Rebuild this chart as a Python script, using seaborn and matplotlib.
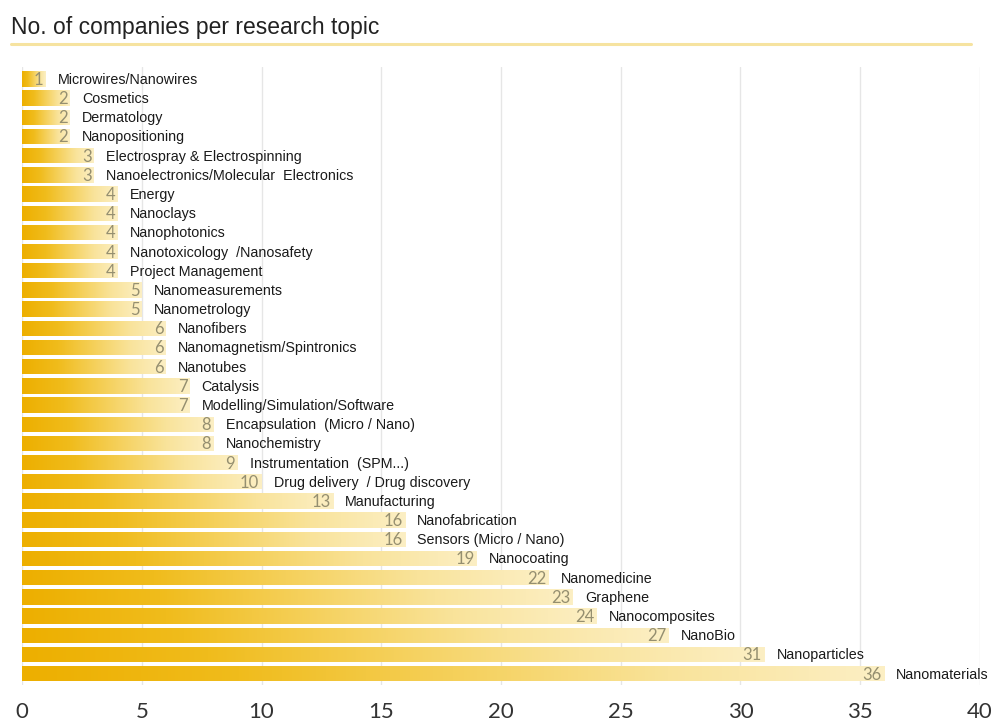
import numpy as np
import pandas as pd
import matplotlib
matplotlib.use("Agg")
import matplotlib.pyplot as plt
import seaborn as sns
from matplotlib.colors import LinearSegmentedColormap

topics = [
    "Microwires/Nanowires", "Cosmetics", "Dermatology", "Nanopositioning",
    "Electrospray & Electrospinning", "Nanoelectronics/Molecular  Electronics",
    "Energy", "Nanoclays", "Nanophotonics", "Nanotoxicology  /Nanosafety",
    "Project Management", "Nanomeasurements", "Nanometrology", "Nanofibers",
    "Nanomagnetism/Spintronics", "Nanotubes", "Catalysis",
    "Modelling/Simulation/Software", "Encapsulation  (Micro / Nano)",
    "Nanochemistry", "Instrumentation  (SPM...)", "Drug delivery  / Drug discovery",
    "Manufacturing", "Nanofabrication", "Sensors (Micro / Nano)", "Nanocoating",
    "Nanomedicine", "Graphene", "Nanocomposites", "NanoBio", "Nanoparticles",
    "Nanomaterials",
]
counts = [1, 2, 2, 2, 3, 3, 4, 4, 4, 4, 4, 5, 5, 6, 6, 6, 7, 7, 8, 8, 9, 10,
          13, 16, 16, 19, 22, 23, 24, 27, 31, 36]
x_ticks = [0, 5, 10, 15, 20, 25, 30, 35, 40]
title = "No. of companies per research topic"

df = pd.DataFrame({"topic": topics, "count": counts})

sns.set_style("white")
fig = plt.figure(figsize=(10.03, 7.25), dpi=100)
ax = fig.add_axes([0.022, 0.055, 0.955, 0.852])

sns.barplot(data=df, x="count", y="topic", orient="h", color="#EDB100",
            width=0.8, ax=ax, zorder=2)

cmap = LinearSegmentedColormap.from_list(
    "gold", ["#EDAF00", "#F0BC1C", "#F5D05A", "#F9E39A", "#FCEFC4"])
grad = np.linspace(0, 1, 256).reshape(1, -1)
for p in ax.patches:
    x0, y0 = p.get_x(), p.get_y()
    w, h = p.get_width(), p.get_height()
    im = ax.imshow(grad, cmap=cmap, aspect="auto",
                   extent=(x0, x0 + w, y0 + h, y0), zorder=3,
                   interpolation="bilinear")
    im.set_clip_path(p)
    p.set_facecolor("none")
    p.set_edgecolor("none")

for i, (t, v) in enumerate(zip(topics, counts)):
    ax.text(v - 0.1, i + 0.05, str(v), ha="right", va="center",
            fontsize=12, color="#958F70", family="Lato", zorder=4)
    ax.text(v + 0.5, i + 0.05, t, ha="left", va="center",
            fontsize=10.3, color="#1a1a1a", family="Liberation Sans", zorder=4)

ax.set_xlim(0, 40)
ax.set_ylim(len(topics) - 0.5 + 0.1, -0.5 - 0.1)
ax.set_xticks(x_ticks)
ax.set_xticklabels([str(t) for t in x_ticks], fontsize=16,
                   family="Lato", color="#333333")
ax.set_yticks([])
ax.set_xlabel("")
ax.set_ylabel("")
ax.xaxis.grid(True, color="#E6E6E6", lw=1, zorder=0)
ax.set_axisbelow(True)
for s in ax.spines.values():
    s.set_visible(False)
ax.tick_params(axis="x", length=4, color="#DDDDDD", pad=8)

fig.text(0.011, 0.962, title, fontsize=16.5, color="#222222",
         family="Liberation Sans", ha="left", va="center")
fig.add_artist(plt.Line2D([0.011, 0.968], [0.939, 0.939],
                          color="#F6E3A0", lw=2.2, transform=fig.transFigure))

fig.savefig("out.png", dpi=100)
